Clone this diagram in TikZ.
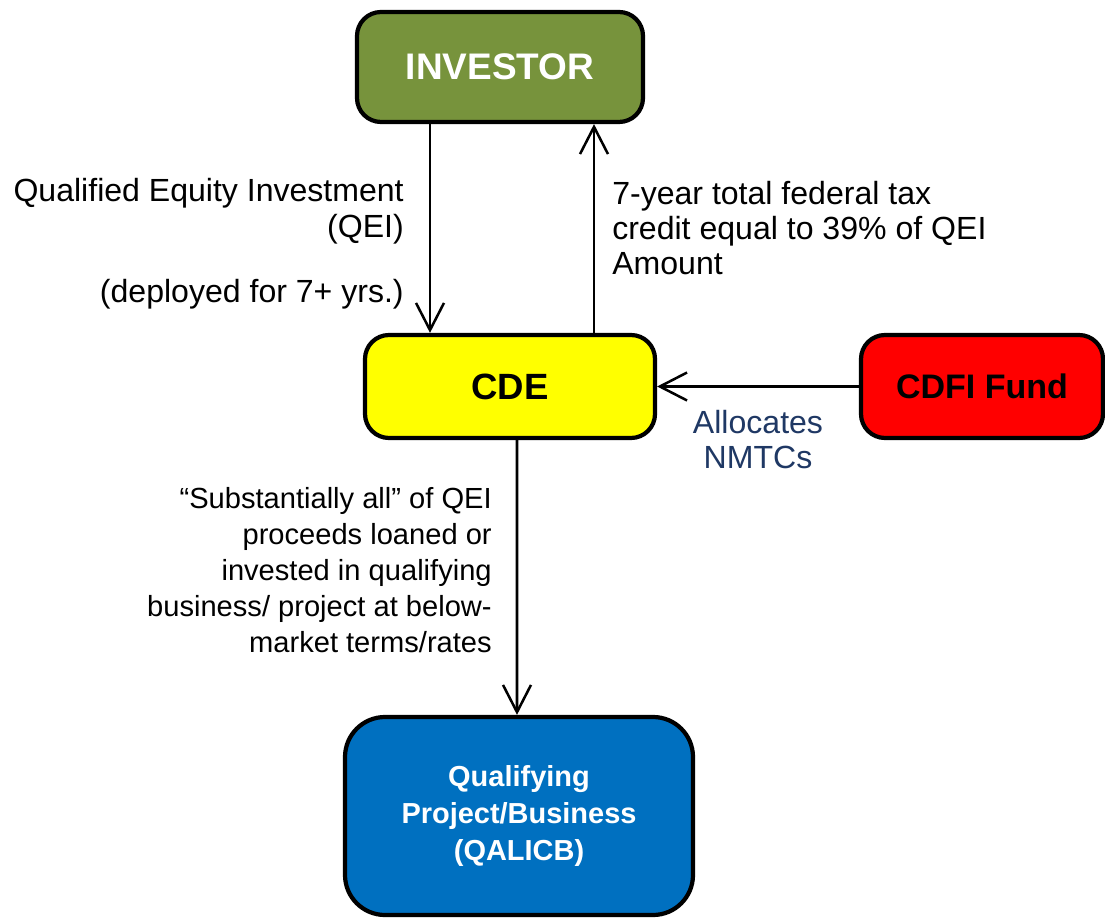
\documentclass[tikz,border=0pt]{standalone}
\usepackage{fontspec}
\setmainfont{Liberation Sans}
\usepackage{tikz}
\usetikzlibrary{arrows.meta}

\definecolor{invgreen}{HTML}{77933C}
\definecolor{cdeyellow}{HTML}{FFFF00}
\definecolor{fundred}{HTML}{FF0000}
\definecolor{qalblue}{HTML}{0070C0}
\definecolor{nmtcblue}{HTML}{1F3864}

\begin{document}
\begin{tikzpicture}[
  box/.style={draw=black, line width=3pt, rounded corners=0.6cm},
  flow/.style={-{Straight Barb[length=0.68cm,width=0.7cm]}, line width=1.8pt},
  note/.style={font=\fontsize{22.8}{26.3}\selectfont, inner sep=0pt}]
\useasboundingbox (0,0) rectangle (27.625,23);

\node[box, fill=invgreen, text=white, minimum width=7.15cm, minimum height=2.75cm,
  font=\bfseries\fontsize{26.3}{30}\selectfont]          (inv)  at (12.5,21.325)   {INVESTOR};
\node[box, fill=cdeyellow, minimum width=7.25cm, minimum height=2.575cm,
  font=\bfseries\fontsize{26}{30}\selectfont]            (cde)  at (12.75,13.3375) {CDE};
\node[box, fill=fundred, minimum width=6.05cm, minimum height=2.575cm,
  font=\bfseries\fontsize{24.2}{28}\selectfont]          (fund) at (24.55,13.3375) {CDFI Fund};
\node[box, fill=qalblue, text=white, rounded corners=1cm, minimum width=8.7cm, minimum height=4.95cm,
  align=center, font=\bfseries\fontsize{20.6}{26.3}\selectfont]
                                                         (qal)  at (12.975,2.6)    {Qualifying\\Project/Business\\(QALICB)};

\node[note, anchor=east, align=right] (qei)    at (10.1,17.72) {Qualified Equity Investment\\(QEI)};
\node[note, anchor=east]              (deploy) at (10.1,15.65) {(deployed for 7+ yrs.)};
\node[note, anchor=west, align=left,
  font=\fontsize{22.8}{25.2}\selectfont] (credit) at (15.3,17.3) {7-year total federal tax\\credit equal to 39\% of QEI\\Amount};
\node[note, align=center, text=nmtcblue,
  font=\fontsize{22.8}{25.2}\selectfont] (alloc)  at (18.95,12.01) {Allocates\\NMTCs};
\node[note, anchor=east, align=right,
  font=\fontsize{20.7}{25.6}\selectfont] (loan)   at (12.3,8.75) {“Substantially all” of QEI\\proceeds loaned or\\invested in qualifying\\business/ project at below-\\market terms/rates};

\draw[flow] ([xshift=-1.75cm]inv.south) -- ([xshift=-2cm]cde.north);
\draw[flow] ([xshift=2.1cm]cde.north) -- ([xshift=2.35cm]inv.south);
\draw[flow] (fund.west) -- (cde.east);
\draw[flow] ([xshift=0.175cm]cde.south) -- ([xshift=-0.05cm]qal.north);
\end{tikzpicture}
\end{document}
